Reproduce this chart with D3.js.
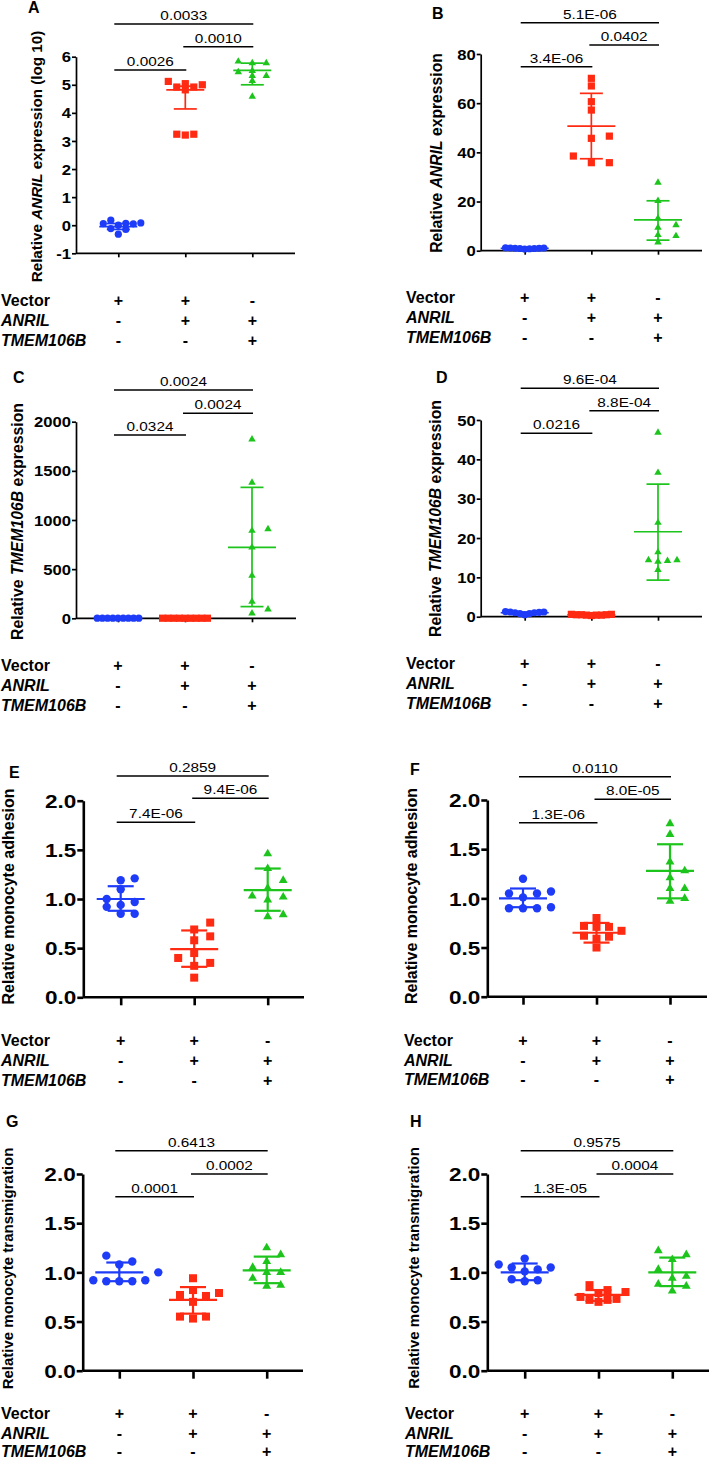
<!DOCTYPE html>
<html><head><meta charset="utf-8">
<script src="https://cdn.jsdelivr.net/npm/d3@7"></script>
<style>body{margin:0;background:#fff}svg{display:block}</style>
</head><body><svg id="c" width="709" height="1459"></svg>
<script>
// ---------- DATA ----------
const groups = ["Vector", "ANRIL", "ANRIL+TMEM106B"];
const rowLabels = ["Vector", "ANRIL", "TMEM106B"];
const rowSigns = [["+", "+", "-"], ["-", "+", "+"], ["-", "-", "+"]];

const aBlue = [0.00, 0.08, 0.06, 0.18, 0.07, 0.05, -0.32, -0.15, -0.12];
const aRed = [4.92, 5.00, 5.12, 4.82, 4.92, 5.04, 3.21, 3.24, 3.24];
const aGreen = [5.77, 5.77, 5.83, 5.32, 5.32, 5.50, 5.14, 4.58, 5.45];
const aMean = [-0.05, 4.82, 5.51], aUpper = [0.06, 4.95, 5.77], aLower = [-0.15, 4.14, 5.0];
const aP = ["0.0026", "0.0010", "0.0033"];
const aTicks = [-1, 0, 1, 2, 3, 4, 5, 6];

const bBlue = [0.9, 1.1, 0.8, 1.2, 1.0, 0.9, 1.1, 0.7, 1.0];
const bRed = [70.1, 67.0, 60.6, 57.2, 46.6, 45.7, 38.5, 35.8, 35.8];
const bGreen = [27.7, 20.3, 10.4, 13.2, 9.4, 6.4, 6.0, 3.4];
const bMean = [1.0, 50.7, 12.5], bUpper = [1.1, 64, 20.3], bLower = [0.9, 37.4, 4.3];
const bP = ["3.4E-06", "0.0402", "5.1E-06"];
const bTicks = [0, 20, 40, 60, 80];

const cBlue = [1, 1, 1, 1, 1, 1, 1, 1, 1];
const cRed = [0.6, 0.8, 0.5, 0.7, 0.6, 0.9, 0.5, 0.7, 0.6];
const cGreen = [1820, 1380, 908, 891, 722, 434, 170, 51, 92];
const cMean = [1, 0.65, 722], cUpper = [1.05, 0.75, 1332], cLower = [0.95, 0.55, 119];
const cP = ["0.0324", "0.0024", "0.0024"];
const cTicks = [0, 500, 1000, 1500, 2000];

const dBlue = [1.2, 1.0, 1.3, 0.8, 1.1, 0.5, 1.0, 1.2, 0.8];
const dRed = [0.5, 0.6, 0.4, 0.5, 0.3, 0.6, 0.4, 0.5, 0.4];
const dGreen = [46.8, 36.6, 23.9, 14.4, 14.2, 14.4, 16.4, 14.0, 11.9];
const dMean = [1.0, 0.5, 21.6], dUpper = [1.2, 0.6, 33.7], dLower = [0.8, 0.4, 9.3];
const dP = ["0.0216", "8.8E-04", "9.6E-04"];
const dTicks = [0, 10, 20, 30, 40, 50];

const eBlue = [1.21, 1.19, 1.10, 0.94, 0.97, 0.85, 0.85, 1.00, 0.92];
const eRed = [0.76, 0.69, 0.62, 0.58, 0.45, 0.40, 0.35, 0.32, 0.20];
const eGreen = [1.46, 1.31, 1.19, 1.11, 1.02, 1.03, 0.99, 0.82, 0.84];
const eMean = [1.0, 0.49, 1.09], eUpper = [1.13, 0.68, 1.31], eLower = [0.88, 0.31, 0.88];
const eP = ["7.4E-06", "9.4E-06", "0.2859"];

const fBlue = [1.20, 1.07, 1.05, 1.05, 1.01, 0.90, 0.90, 0.90, 0.91];
const fRed = [0.80, 0.71, 0.71, 0.72, 0.67, 0.61, 0.62, 0.59, 0.50];
const fGreen = [1.76, 1.65, 1.37, 1.28, 1.21, 1.10, 1.10, 0.97, 1.00];
const fMean = [1.0, 0.65, 1.28], fUpper = [1.10, 0.75, 1.55], fLower = [0.91, 0.55, 1.0];
const fP = ["1.3E-06", "8.0E-05", "0.0110"];

const gBlue = [1.17, 1.11, 1.08, 1.00, 0.92, 0.91, 0.92, 0.91, 0.91];
const gRed = [0.94, 0.79, 0.82, 0.77, 0.76, 0.70, 0.53, 0.55, 0.55];
const gGreen = [1.25, 1.11, 1.18, 1.05, 0.94, 1.00, 1.00, 0.86, 0.87];
const gMean = [1.0, 0.72, 1.02], gUpper = [1.10, 0.85, 1.16], gLower = [0.91, 0.58, 0.89];
const gP = ["0.0001", "0.0002", "0.6413"];

const hBlue = [1.14, 1.08, 1.05, 1.05, 1.01, 1.03, 0.91, 0.92, 0.93];
const hRed = [0.87, 0.82, 0.80, 0.79, 0.75, 0.72, 0.72, 0.73, 0.70];
const hGreen = [1.22, 1.18, 1.13, 1.03, 0.96, 0.94, 0.86, 0.88, 0.81];
const hMean = [1.0, 0.77, 1.0], hUpper = [1.09, 0.82, 1.15], hLower = [0.92, 0.71, 0.86];
const hP = ["1.3E-05", "0.0004", "0.9575"];

const adhTicks = [0, 0.5, 1.0, 1.5, 2.0];

const titleA = [["Relative ", false], ["ANRIL", true], [" expression (log 10)", false]];
const titleB = [["Relative ", false], ["ANRIL", true], [" expression", false]];
const titleC = [["Relative ", false], ["TMEM106B", true], [" expression", false]];
const titleE = [["Relative monocyte adhesion", false]];
const titleG = [["Relative monocyte transmigration", false]];

// ---------- LAYOUT ----------
const colors = ["#1e3cf8", "#ff2a12", "#1cc41c"];
const shapes = ["circle", "square", "triangle"];
const FONT = "'Liberation Sans', Arial, Helvetica, sans-serif";
const intFmt = v => String(v);
const decFmt = v => d3.format(".1f")(v).replace("\u2212", "-");

const panels = [
  {key:"A", vals:[aBlue,aRed,aGreen], mean:aMean, up:aUpper, lo:aLower, p:aP, ticks:aTicks, fmt:intFmt, title:titleA,
   L:{ax:76, y0:253.3, y1:56.7, dom:[-1,6], xr:[118.3,252.3], xEnd:295, sig:[70,46.7,24], rows:[300,320,340], rowX:1,
      letter:[28,12.5], tx:42, ty:156.5, tfs:15.2, big:false, spread:[7.5,8.5,14], bin:[6,6,5], mw:19}},
  {key:"B", vals:[bBlue,bRed,bGreen], mean:bMean, up:bUpper, lo:bLower, p:bP, ticks:bTicks, fmt:intFmt, title:titleB,
   L:{ax:480.7, y0:250.7, y1:54, dom:[0,80], xr:[524.7,658], xEnd:702, sig:[66.7,45,22.7], rows:[297,317,337], rowX:406,
      letter:[432,19.3], tx:442, ty:153, tfs:15.7, big:false, spread:[4.8,18,18], bin:[6,7,7], mw:24}},
  {key:"C", vals:[cBlue,cRed,cGreen], mean:cMean, up:cUpper, lo:cLower, p:cP, ticks:cTicks, fmt:intFmt, title:titleC,
   L:{ax:76, y0:618.3, y1:421.7, dom:[0,2000], xr:[118,252], xEnd:296, sig:[435,413.3,390], rows:[665,685,705], rowX:1,
      letter:[13,383], tx:23, ty:521.5, tfs:15.8, big:false, spread:[5.2,5.6,16], bin:[6,6,7], mw:24}},
  {key:"D", vals:[dBlue,dRed,dGreen], mean:dMean, up:dUpper, lo:dLower, p:dP, ticks:dTicks, fmt:intFmt, title:titleC,
   L:{ax:480.7, y0:616.7, y1:420, dom:[0,50], xr:[524.7,658], xEnd:702, sig:[433.3,410.7,388.3], rows:[663,683,703], rowX:406,
      letter:[436,382.7], tx:441, ty:518.5, tfs:15.8, big:false, spread:[4.8,5.0,9.5], bin:[7,7,7], mw:24}},
  {key:"E", vals:[eBlue,eRed,eGreen], mean:eMean, up:eUpper, lo:eLower, p:eP, ticks:adhTicks, fmt:decFmt, title:titleE,
   L:{ax:83.3, y0:997.3, y1:800.7, dom:[0,2], xr:[120.7,267.7], xEnd:304, sig:[822.3,798.3,776], rows:[1040,1060,1080], rowX:1,
      letter:[9,778], tx:14, ty:896.5, tfs:16, big:true, spread:[14,16,15.5], bin:[7,9,9], mw:24}},
  {key:"F", vals:[fBlue,fRed,fGreen], mean:fMean, up:fUpper, lo:fLower, p:fP, ticks:adhTicks, fmt:decFmt, title:titleE,
   L:{ax:487.3, y0:996.7, y1:800, dom:[0,2], xr:[523,670], xEnd:707, sig:[822.7,799.3,776.7], rows:[1040,1060,1079], rowX:404,
      letter:[410,775], tx:417, ty:896, tfs:16, big:true, spread:[14,12.5,14.7], bin:[9,8,9], mw:24}},
  {key:"G", vals:[gBlue,gRed,gGreen], mean:gMean, up:gUpper, lo:gLower, p:gP, ticks:adhTicks, fmt:decFmt, title:titleG,
   L:{ax:82.7, y0:1370.7, y1:1174, dom:[0,2], xr:[119.3,266.7], xEnd:303, sig:[1196.7,1174,1150.7], rows:[1413,1433,1451.5], rowX:1,
      letter:[6,1126.7], tx:13, ty:1268.5, tfs:15, big:true, spread:[13,13,14], bin:[9,9,9], mw:24}},
  {key:"H", vals:[hBlue,hRed,hGreen], mean:hMean, up:hUpper, lo:hLower, p:hP, ticks:adhTicks, fmt:decFmt, title:titleG,
   L:{ax:487.3, y0:1370.7, y1:1174, dom:[0,2], xr:[524.7,672.3], xEnd:709, sig:[1196.7,1174,1150.7], rows:[1413,1433,1451.5], rowX:405,
      letter:[410,1126.7], tx:419, ty:1268, tfs:15, big:true, spread:[13,9,14], bin:[9,8,9], mw:24}}
];

const svg = d3.select("#c");

// greedy beeswarm: rectangular collision box s (horizontal) x h (vertical)
function swarm(vals, y, cx, s, h) {
  const pts = vals.map(v => ({v, py: y(v)})).sort((a, b) => a.v - b.v);
  const placed = [];
  pts.forEach(p => {
    for (let k = 0; k < 40; k++) {
      const m = k === 0 ? 0 : (k % 2 ? 1 : -1) * Math.ceil(k / 2);
      const px = cx + m * s;
      const hit = placed.some(q => Math.abs(q.px - px) < s - 0.01 && Math.abs(q.py - p.py) < h);
      if (!hit) { p.px = px; break; }
    }
    placed.push(p);
  });
  return pts;
}

function drawPanel(P) {
  const L = P.L;
  const big = L.big;
  const g = svg.append("g").attr("class", "panel-" + P.key);
  const y = d3.scaleLinear().domain(L.dom).range([L.y0, L.y1]);
  const x = d3.scalePoint().domain(groups).range(L.xr);
  const aw = big ? 2.6 : 1.7;
  const ts = big ? 6 : 4;

  // Y axis
  const ga = g.append("g").attr("transform", `translate(${L.ax},0)`)
    .call(d3.axisLeft(y).tickValues(P.ticks).tickFormat(P.fmt).tickSizeInner(ts).tickSizeOuter(0));
  ga.attr("font-family", FONT).attr("font-size", big ? 18.5 : 14).attr("font-weight", "bold");
  ga.select(".domain").attr("stroke", "#000").attr("stroke-width", aw);
  ga.selectAll(".tick line").attr("stroke", "#000").attr("stroke-width", aw);
  ga.selectAll(".tick text").attr("x", 0).attr("dy", "0.36em").attr("fill", "#000")
    .attr("text-anchor", "end")
    .attr("transform", `translate(${-(ts + 1)},0) scale(${big ? 1.22 : 1.19},1)`);

  // X axis
  const gx = g.append("g").attr("transform", `translate(0,${L.y0})`)
    .call(d3.axisBottom(x).tickFormat("").tickSizeInner(big ? 8 : 4).tickSizeOuter(0));
  gx.select(".domain").remove();
  gx.selectAll(".tick line").attr("stroke", "#000").attr("stroke-width", aw);
  g.append("line").attr("x1", L.ax).attr("x2", L.xEnd).attr("y1", L.y0).attr("y2", L.y0)
    .attr("stroke", "#000").attr("stroke-width", aw);

  // Points
  const r = big ? 4.2 : 3.6;
  const sq = big ? 8 : 7.2;
  const tri = d3.symbol(d3.symbolTriangle, big ? 34 : 24);
  P.vals.forEach((vals, gi) => {
    const pts = swarm(vals, y, x(groups[gi]), L.spread[gi], L.bin[gi]);
    const sel = g.append("g").attr("fill", colors[gi]);
    if (shapes[gi] === "circle") {
      sel.selectAll("circle").data(pts).join("circle")
        .attr("cx", d => d.px).attr("cy", d => d.py).attr("r", r);
    } else if (shapes[gi] === "square") {
      sel.selectAll("rect").data(pts).join("rect")
        .attr("x", d => d.px - sq / 2).attr("y", d => d.py - sq / 2).attr("width", sq).attr("height", sq);
    } else {
      sel.selectAll("path").data(pts).join("path")
        .attr("d", tri).attr("transform", d => `translate(${d.px},${d.py})`);
    }
  });

  // Mean and error bars
  const ew = big ? 2.2 : 1.7;
  const cw = big ? 13 : 11.5;
  groups.forEach((gr, gi) => {
    const cx = x(gr);
    const eg = g.append("g").attr("stroke", colors[gi]).attr("stroke-width", ew);
    eg.append("line").attr("x1", cx - L.mw).attr("x2", cx + L.mw).attr("y1", y(P.mean[gi])).attr("y2", y(P.mean[gi]));
    eg.append("line").attr("x1", cx).attr("x2", cx).attr("y1", y(P.lo[gi])).attr("y2", y(P.up[gi]));
    eg.append("line").attr("x1", cx - cw).attr("x2", cx + cw).attr("y1", y(P.up[gi])).attr("y2", y(P.up[gi]));
    eg.append("line").attr("x1", cx - cw).attr("x2", cx + cw).attr("y1", y(P.lo[gi])).attr("y2", y(P.lo[gi]));
  });

  // Significance bars
  const pairs = [[0, 1], [1, 2], [0, 2]];
  pairs.forEach((pr, i) => {
    const x1 = x(groups[pr[0]]) - (pr[0] === 0 ? 4 : 2);
    const x2 = x(groups[pr[1]]) + 1;
    const by = L.sig[i];
    g.append("line").attr("x1", x1).attr("x2", x2).attr("y1", by).attr("y2", by)
      .attr("stroke", "#000").attr("stroke-width", 1.6);
    g.append("text").attr("x", 0).attr("y", 0)
      .attr("transform", `translate(${(x1 + x2) / 2},${by - 4}) scale(1.18,1)`)
      .attr("text-anchor", "middle").attr("font-family", FONT).attr("font-size", 13)
      .attr("fill", "#000").text(P.p[i]);
  });

  // Y title
  const t = g.append("text").attr("transform", `translate(${L.tx},${L.ty}) rotate(-90)`)
    .attr("text-anchor", "middle").attr("font-family", FONT).attr("font-weight", "bold")
    .attr("font-size", L.tfs).attr("fill", "#000");
  P.title.forEach(([s, it]) => t.append("tspan").attr("font-style", it ? "italic" : "normal").text(s));

  // Panel letter
  g.append("text").attr("x", L.letter[0]).attr("y", L.letter[1]).attr("font-family", FONT)
    .attr("font-weight", "bold").attr("font-size", 16).attr("fill", "#000").text(P.key);

  // Condition rows
  rowLabels.forEach((lab, ri) => {
    const ry = L.rows[ri] + 5.5;
    g.append("text").attr("x", L.rowX).attr("y", ry).attr("font-family", FONT)
      .attr("font-weight", "bold").attr("font-style", ri === 0 ? "normal" : "italic")
      .attr("font-size", 16).attr("fill", "#000").text(lab);
    rowSigns[ri].forEach((s, gi) => {
      g.append("text").attr("x", x(groups[gi])).attr("y", ry).attr("text-anchor", "middle")
        .attr("font-family", FONT).attr("font-weight", "bold").attr("font-size", 16)
        .attr("fill", "#000").text(s);
    });
  });
}

panels.forEach(drawPanel);
</script>
</body></html>
